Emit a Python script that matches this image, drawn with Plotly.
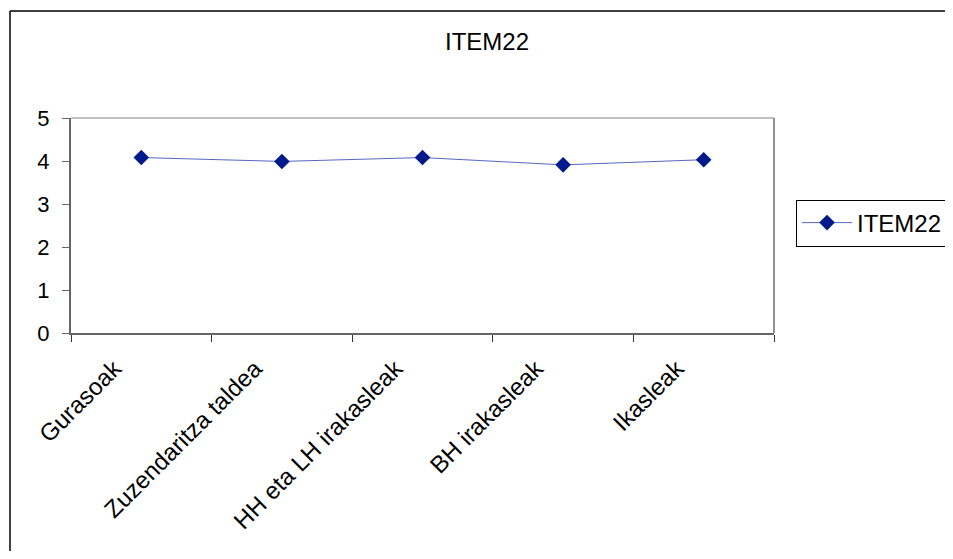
import plotly.graph_objects as go

categories = ["Gurasoak", "Zuzendaritza taldea", "HH eta LH irakasleak", "BH irakasleak", "Ikasleak"]
values = [4.08, 3.99, 4.08, 3.91, 4.03]
series_name = "ITEM22"
title_text = "ITEM22"

OFF = 8  # page body margin
W, H = 953 - 2 * OFF, 559 - 2 * OFF
L, T = 71 - OFF, 118 - OFF
pw, ph = 703, 215
R, B = W - L - pw, H - T - ph

def px_x(p):
    return (p - OFF - L) / pw

def px_y(p):
    return (T + ph - (p - OFF)) / ph

fig = go.Figure()
fig.add_trace(go.Scatter(
    x=categories, y=values, name=series_name, mode="lines+markers",
    line=dict(color="#5566c4", width=1),
    marker=dict(symbol="diamond", size=12, color="#001a8c"),
))

font = "Arial, Liberation Sans, sans-serif"
fig.update_layout(
    width=W, height=H,
    margin=dict(l=L, r=R, t=T, b=B, autoexpand=False),
    paper_bgcolor="white", plot_bgcolor="white",
    font=dict(family=font, color="black"),
    title=dict(text=title_text, x=px_x(487), xref="paper", xanchor="center",
               y=1 - (42 - OFF) / H, yanchor="middle", font=dict(size=24, family=font)),
    showlegend=True,
    legend=dict(x=px_x(796), xanchor="left", y=px_y(223), yanchor="middle",
                bordercolor="black", borderwidth=1, bgcolor="white",
                font=dict(size=24, family=font), itemwidth=50),
    xaxis=dict(type="category", range=[-0.5, 4.5], showgrid=False,
               showline=True, linecolor="#666666", linewidth=2,
               ticks="outside", tickson="boundaries", ticklen=7, tickcolor="#333333",
               tickangle=-45, tickfont=dict(size=24, family=font), zeroline=False,
               ticklabelshift=-27, ticklabelstandoff=10, automargin=False),
    yaxis=dict(range=[0, 5], dtick=1, showgrid=False,
               showline=True, linecolor="#666666", linewidth=2,
               ticks="outside", ticklen=7, tickcolor="#666666",
               tickfont=dict(size=22, family=font), zeroline=False,
               ticklabelstandoff=8, automargin=False),
    shapes=[
        dict(type="line", xref="paper", yref="paper", x0=0, x1=1, y0=1, y1=1,
             line=dict(color="#c0c0c0", width=2)),
        dict(type="line", xref="paper", yref="paper", x0=1, x1=1, y0=0, y1=1,
             line=dict(color="#909090", width=2)),
        dict(type="line", xref="paper", yref="paper",
             x0=px_x(10), x1=px_x(960), y0=px_y(11), y1=px_y(11),
             line=dict(color="black", width=1.5), layer="below"),
        dict(type="line", xref="paper", yref="paper",
             x0=px_x(10), x1=px_x(10), y0=px_y(11), y1=px_y(570),
             line=dict(color="black", width=1.5), layer="below"),
    ],
)

fig.write_html("out.html")
